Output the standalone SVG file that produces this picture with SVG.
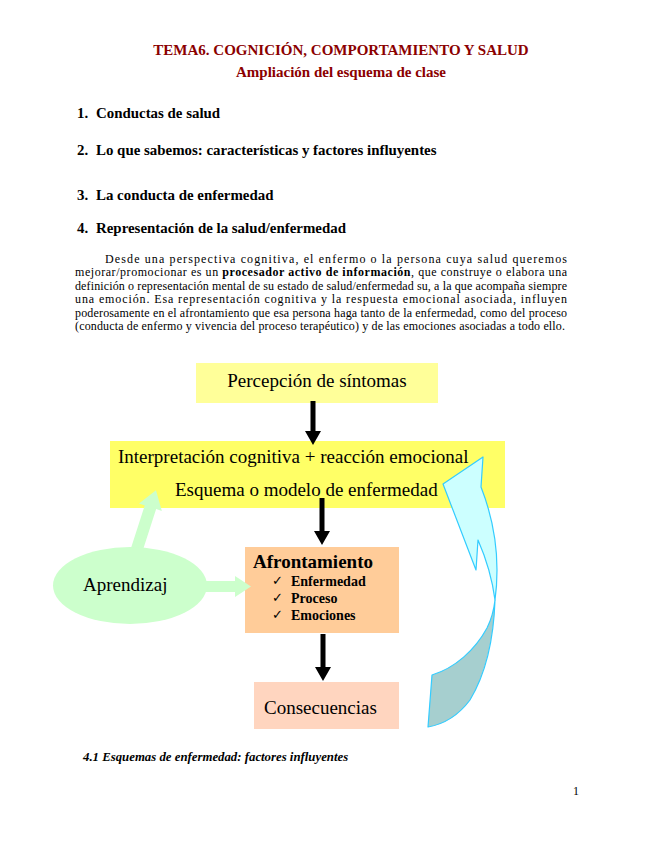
<svg xmlns="http://www.w3.org/2000/svg" width="655" height="848" viewBox="0 0 655 848">
<style>
.t{font-family:"Liberation Serif","Times New Roman",serif;fill:#000}
.h{font-family:"Liberation Serif","Times New Roman",serif;font-weight:bold;fill:#8B0000;font-size:15px;text-anchor:middle}
.li{font-family:"Liberation Serif","Times New Roman",serif;font-weight:bold;font-size:14.9px}
.p{font-family:"Liberation Serif","Times New Roman",serif;font-size:12px}
.n{font-family:"Liberation Serif","Times New Roman",serif;font-size:19px}
.ck{font-family:"DejaVu Sans",sans-serif;font-size:13px}
.bk{fill:#000}
.gr{fill:#CCFFCC}
</style>
<rect width="655" height="848" fill="#fff"/>

<g id="header">
<text class="h" x="341" y="55">TEMA6. COGNICIÓN, COMPORTAMIENTO Y SALUD</text>
<text class="h" x="341" y="77">Ampliación del esquema de clase</text>
</g>

<g id="list" class="li">
<text x="77" y="118">1.</text><text x="96" y="118">Conductas de salud</text>
<text x="77" y="155">2.</text><text x="96" y="155">Lo que sabemos: características y factores influyentes</text>
<text x="77" y="200">3.</text><text x="96" y="200">La conducta de enfermedad</text>
<text x="77" y="233">4.</text><text x="96" y="233">Representación de la salud/enfermedad</text>
</g>

<g id="paragraph" class="p">
<text x="105" y="263" textLength="462" lengthAdjust="spacing">Desde una perspectiva cognitiva, el enfermo o la persona cuya salud queremos</text>
<text x="75" y="276.4" textLength="492" lengthAdjust="spacing">mejorar/promocionar es un <tspan font-weight="bold">procesador activo de información</tspan>, que construye o elabora una</text>
<text x="75" y="289.8" textLength="492" lengthAdjust="spacing">definición o representación mental de su estado de salud/enfermedad su, a la que acompaña siempre</text>
<text x="75" y="303.2" textLength="492" lengthAdjust="spacing">una emoción. Esa representación cognitiva y la respuesta emocional asociada, influyen</text>
<text x="75" y="316.6" textLength="492" lengthAdjust="spacing">poderosamente en el afrontamiento que esa persona haga tanto de la enfermedad, como del proceso</text>
<text x="75" y="330" textLength="490" lengthAdjust="spacing">(conducta de enfermo y vivencia del proceso terapéutico) y de las emociones asociadas a todo ello.</text>
</g>

<g id="percepcion">
<rect x="196" y="363" width="242" height="40" fill="#FFFF99"/>
<text class="n" x="317" y="387" text-anchor="middle">Percepción de síntomas</text>
</g>

<g id="interpretacion">
<rect x="110" y="441" width="395" height="67" fill="#FFFF66"/>
<text class="n" x="118" y="463">Interpretación cognitiva + reacción emocional</text>
<text class="n" x="175" y="496">Esquema o modelo de enfermedad</text>
</g>

<g id="afrontamiento">
<rect x="245" y="547" width="154" height="86" fill="#FFCC99"/>
<text class="n" x="253" y="568" font-weight="bold" font-size="18">Afrontamiento</text>
<text class="ck" x="272" y="585">✓</text>
<text class="ck" x="272" y="602">✓</text>
<text class="ck" x="272" y="619">✓</text>
<text class="t" x="291" y="586" font-weight="bold" font-size="14">Enfermedad</text>
<text class="t" x="291" y="603" font-weight="bold" font-size="14">Proceso</text>
<text class="t" x="291" y="620" font-weight="bold" font-size="14">Emociones</text>
</g>

<g id="consecuencias">
<rect x="254" y="682" width="145" height="47" fill="#FFD5BF"/>
<text class="n" x="264" y="714">Consecuencias</text>
</g>

<g id="connectors">
<polygon class="bk" points="310.5,401 315.5,401 315.5,431 321,431 313,445 305,431 310.5,431"/>
<polygon class="bk" points="319.5,498 324.5,498 324.5,531 330,531 322,545 314,531 319.5,531"/>
<polygon class="bk" points="320.5,634 325.5,634 325.5,667 331,667 323,681 315,667 320.5,667"/>
<polygon class="gr" points="0,-6 47,-6 47,-12 65,0 47,12 47,6 0,6" transform="translate(136,552) rotate(-72.1)"/>
<polygon class="gr" points="200,581 235,581 235,576 251,586.5 235,597 235,592 200,592"/>
<path d="M495,600 C494,630 488,670 470,700 C458,716 445,724 428,727 L432,675 C455,668 475,650 487,628 C492,618 494,609 495,600 Z" fill="#A6CFCF" stroke="#33CCFF" stroke-width="1.2" stroke-linejoin="round"/>
<path d="M443,484 L483,457 L481,487 C490,510 497,540 497,570 C497,585 496,593 495,600 C493,585 489,565 478,540 L476,570 Z" fill="#CCFFFF" stroke="#33CCFF" stroke-width="1.2" stroke-linejoin="round"/>
</g>

<g id="aprendizaje">
<ellipse cx="130" cy="585.5" rx="77" ry="38.5" fill="#CCFFCC"/>
<text class="n" x="83" y="591">Aprendizaj</text>
</g>

<g id="footer">
<text class="t" x="83" y="761" font-size="12.8" font-weight="bold" font-style="italic">4.1 Esquemas de enfermedad: factores influyentes</text>
<text class="t" x="573" y="795" font-size="12">1</text>
</g>
</svg>
